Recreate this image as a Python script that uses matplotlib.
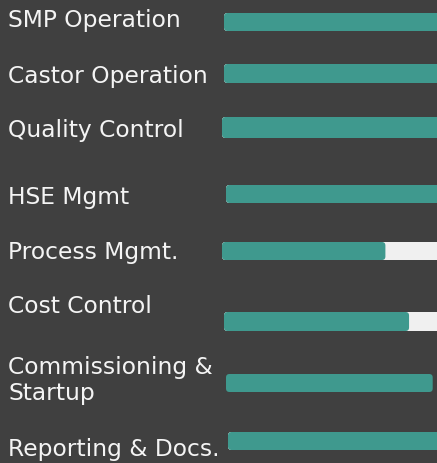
import numpy as np
import matplotlib
matplotlib.use('Agg')
import matplotlib.pyplot as plt
from matplotlib.patches import FancyBboxPatch

# skill rows (label, percent filled)
skills = ['SMP Operation', 'Castor Operation', 'Quality Control', 'HSE Mgmt',
          'Process Mgmt.', 'Cost Control', 'Commissioning &\nStartup', 'Reporting & Docs.']
levels = [100, 100, 100, 100, 76, 87, 98, 100]

# layout in pixels (figure is 437x464)
bar_mid = [23, 74.5, 128.5, 195, 252, 322.5, 384, 442]
bar_h = [18, 19, 21, 18, 18, 19, 18, 18]
bar_x0 = [224, 224, 222, 226, 222, 224, 226, 228]
label_base = [26.5, 83, 137, 204.5, 259.5, 313.5, 400.5, 456]
show_track = [True, True, True, True, True, True, False, True]
track_x0 = 222
track_w = 215

bg = '#404040'
teal = '#3f998e'
track = '#f0f0f0'

fig = plt.figure(figsize=(4.37, 4.64), dpi=100)
fig.patch.set_facecolor(bg)
ax = fig.add_axes([0, 0, 1, 1])
ax.set_facecolor(bg)
ax.set_xlim(0, 437)
ax.set_ylim(464, 0)
ax.axis('off')

for i in range(len(skills)):
    y0 = bar_mid[i] - bar_h[i] / 2
    if show_track[i]:
        tr = FancyBboxPatch((bar_x0[i], y0), 260, bar_h[i],
                            boxstyle='round,pad=0,rounding_size=3',
                            fc=track, ec='none', zorder=1)
        ax.add_patch(tr)
    w = levels[i] / 100 * track_w - (bar_x0[i] - track_x0)
    if levels[i] >= 100:
        w = 240
    br = FancyBboxPatch((bar_x0[i], y0), w, bar_h[i],
                        boxstyle='round,pad=0,rounding_size=3.5',
                        fc=teal, ec='none', zorder=2)
    ax.add_patch(br)
    ax.text(8, label_base[i], skills[i], color='#f4f4f4', fontsize=16.8,
            family='DejaVu Sans', va='baseline', ha='left', linespacing=1.22)

fig.savefig('out.png', dpi=100, facecolor=bg)
